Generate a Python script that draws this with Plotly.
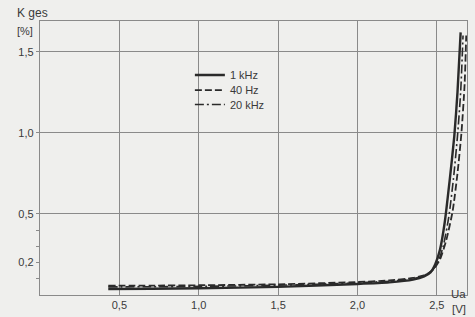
import plotly.graph_objects as go

# Data (Ua in V, K ges in %)
ua_1khz = [0.43, 0.7, 1.0, 1.5, 2.0, 2.2, 2.35, 2.42, 2.46, 2.49, 2.52, 2.55, 2.58, 2.61, 2.63, 2.65]
k_1khz = [0.037, 0.039, 0.042, 0.05, 0.068, 0.078, 0.095, 0.115, 0.14, 0.19, 0.28, 0.45, 0.70, 0.98, 1.25, 1.62]

ua_40hz = [0.43, 0.7, 1.0, 1.5, 2.0, 2.2, 2.35, 2.43, 2.48, 2.52, 2.56, 2.60, 2.63, 2.655, 2.675, 2.685]
k_40hz = [0.058, 0.058, 0.06, 0.066, 0.08, 0.09, 0.105, 0.125, 0.16, 0.22, 0.34, 0.52, 0.75, 1.0, 1.3, 1.6]

ua_20khz = [0.43, 0.7, 1.0, 1.5, 2.0, 2.2, 2.35, 2.42, 2.47, 2.51, 2.54, 2.575, 2.605, 2.63, 2.65, 2.665]
k_20khz = [0.05, 0.051, 0.053, 0.06, 0.075, 0.085, 0.1, 0.12, 0.15, 0.21, 0.30, 0.48, 0.72, 0.98, 1.25, 1.6]

x_tickvals = [0.5, 1.0, 1.5, 2.0, 2.5]
x_ticktext = ["0,5", "1,0", "1,5", "2,0", "2,5"]
y_tickvals = [0.1, 0.2, 0.3, 0.4, 0.5, 1.0, 1.5]
y_ticktext = ["", "0,2", "", "", "0,5", "1,0", "1,5"]
y_gridvals = [0.5, 1.0, 1.5]

ink = "#2a2a2a"
grid = "#8a8a8a"
bg = "#efefed"
txt = "#3a3a3a"
font = dict(family="Liberation Sans, Arial, sans-serif", size=11, color=txt)

fig = go.Figure()
fig.add_trace(go.Scatter(x=ua_1khz, y=k_1khz, mode="lines", name="1 kHz", legend="legend",
                         line=dict(color=ink, width=2.4, shape="spline", smoothing=0.6)))
fig.add_trace(go.Scatter(x=ua_40hz, y=k_40hz, mode="lines", name="40 Hz", legend="legend2",
                         line=dict(color=ink, width=1.8, dash="7px,3px", shape="spline", smoothing=0.6)))
fig.add_trace(go.Scatter(x=ua_20khz, y=k_20khz, mode="lines", name="20 kHz", legend="legend3",
                         line=dict(color=ink, width=1.6, dash="9px,3px,2px,3px", shape="spline", smoothing=0.6)))

leg_common = dict(x=0.351, xanchor="left", yanchor="middle", bgcolor="rgba(0,0,0,0)",
                  font=dict(family="Liberation Sans, Arial, sans-serif", size=11, color=txt))

fig.update_layout(
    width=475, height=317,
    margin=dict(l=40, r=8, t=21, b=22, autoexpand=False),
    paper_bgcolor=bg, plot_bgcolor=bg,
    font=font,
    showlegend=True,
    legend=dict(y=0.803, **leg_common),
    legend2=dict(y=0.748, **leg_common),
    legend3=dict(y=0.695, **leg_common),
    xaxis=dict(range=[0, 2.69], tickvals=x_tickvals, ticktext=x_ticktext,
               showgrid=True, gridcolor=grid, gridwidth=1.3,
               showline=True, linecolor=grid, linewidth=1.3, mirror=True,
               ticks="", zeroline=False, tickfont=font, automargin=False),
    yaxis=dict(range=[0, 1.69], tickvals=y_tickvals, ticktext=y_ticktext,
               showgrid=False, ticks="outside", ticklen=3, tickcolor=grid, tickwidth=1,
               showline=True, linecolor=grid, linewidth=1.3, mirror=True,
               zeroline=False, tickfont=font, automargin=False,
               minor=dict(tickvals=y_gridvals, showgrid=True, gridcolor=grid, gridwidth=1.3, ticks="")),
)

fig.add_annotation(text="K ges", xref="paper", yref="paper", x=-0.0585, y=1.0, yshift=8,
                   xanchor="left", yanchor="middle", showarrow=False, font=dict(size=12, color=txt))
fig.add_annotation(text="[%]", xref="paper", yref="paper", x=-0.012, y=1.0, yshift=-2,
                   xanchor="right", yanchor="top", showarrow=False, font=font)
fig.add_annotation(text="Ua", xref="paper", yref="paper", x=1.0, y=0, yshift=1,
                   xanchor="right", yanchor="middle", showarrow=False, borderpad=0,
                   font=dict(size=11.5, color=txt))
fig.add_annotation(text="[V]", xref="paper", yref="paper", x=1.0, y=0, yshift=-14,
                   xanchor="right", yanchor="middle", showarrow=False, borderpad=0,
                   font=dict(size=11.5, color=txt))

fig.write_html(
    "out.html",
    config={"displayModeBar": False},
    post_script="document.body.style.margin='0';document.body.style.overflow='hidden';"
                "document.body.style.background='" + bg + "';",
)
